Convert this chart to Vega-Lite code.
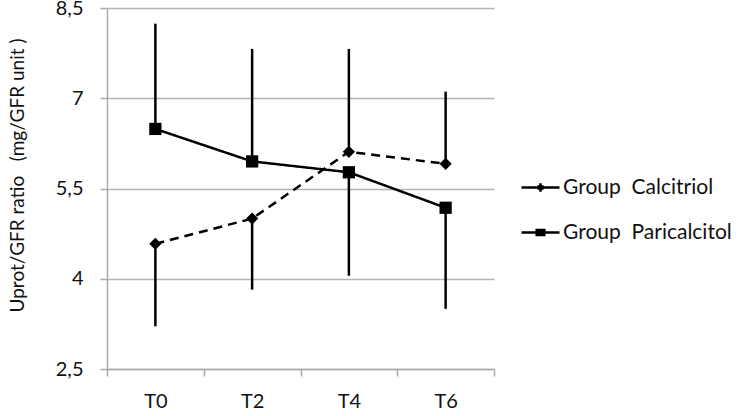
{
  "$schema": "https://vega.github.io/schema/vega-lite/v6.json",
  "autosize": {"type": "none"},
  "padding": {"left": 107, "top": 8, "right": 251, "bottom": 47},
  "width": 387,
  "height": 361,
  "background": "white",
  "config": {
    "font": "Lato",
    "view": {"stroke": null},
    "axis": {"labelFont": "Lato", "titleFont": "Lato", "labelColor": "#111", "titleColor": "#111"}
  },
  "data": {
    "values": [
      {"group": "Group\u00a0 Calcitriol", "time": "T0", "value": 4.58, "err": 3.21},
      {"group": "Group\u00a0 Calcitriol", "time": "T2", "value": 5.0, "err": 3.82},
      {"group": "Group\u00a0 Calcitriol", "time": "T4", "value": 6.11, "err": 7.82},
      {"group": "Group\u00a0 Calcitriol", "time": "T6", "value": 5.91, "err": 7.11},
      {"group": "Group\u00a0 Paricalcitol", "time": "T0", "value": 6.49, "err": 8.24},
      {"group": "Group\u00a0 Paricalcitol", "time": "T2", "value": 5.95, "err": 7.82},
      {"group": "Group\u00a0 Paricalcitol", "time": "T4", "value": 5.77, "err": 4.05},
      {"group": "Group\u00a0 Paricalcitol", "time": "T6", "value": 5.18, "err": 3.5}
    ]
  },
  "encoding": {
    "x": {
      "field": "time", "type": "nominal", "sort": ["T0", "T2", "T4", "T6"],
      "scale": {"paddingInner": 0, "paddingOuter": 0},
      "axis": {"title": null, "labelAngle": 0, "labelFontSize": 20, "labelPadding": 15, "tickBand": "extent", "tickSize": 7, "tickColor": "#aaa", "domainColor": "#aaa", "domainWidth": 1.5, "tickWidth": 1.5, "grid": false}
    },
    "y": {
      "field": "value", "type": "quantitative",
      "scale": {"domain": [2.5, 8.5], "nice": false, "zero": false},
      "axis": {
        "title": "Uprot/GFR ratio \u00a0 (mg/GFR unit )",
        "titleFontSize": 19, "titleFontWeight": "normal", "titlePadding": 28, "titleY": 167,
        "values": [2.5, 4, 5.5, 7, 8.5],
        "labelExpr": "replace(format(datum.value, '.1~f'), '.', ',')",
        "labelFontSize": 20, "labelPadding": 17,
        "tickSize": 7, "tickColor": "#aaa", "tickWidth": 1.5,
        "domainColor": "#aaa", "domainWidth": 1.5,
        "gridColor": "#b5b5b5", "gridWidth": 1.5
      }
    }
  },
  "resolve": {"scale": {"shape": "independent"}, "legend": {"shape": "independent"}},
  "layer": [
    {
      "mark": {"type": "rule", "color": "black", "strokeWidth": 2.5},
      "encoding": {"y2": {"field": "err"}, "detail": {"field": "group"}}
    },
    {
      "mark": {"type": "line", "color": "black", "strokeWidth": 2.5},
      "encoding": {
        "detail": {"field": "group"},
        "strokeDash": {"field": "group", "type": "nominal", "scale": {"range": [[9, 6], [1, 0]]}, "legend": null}
      }
    },
    {
      "mark": {"type": "point", "filled": true, "color": "black", "opacity": 1, "size": 150},
      "encoding": {
        "shape": {"field": "group", "type": "nominal", "scale": {"range": ["diamond", "square"]}, "legend": null}
      }
    },
    {
      "mark": {"type": "point", "filled": false, "color": "black", "size": 0, "strokeWidth": 0},
      "encoding": {
        "shape": {
          "field": "group", "type": "nominal",
          "scale": {"range": ["M-1,0H1M0,-0.22V0.22M-0.1,-0.12V0.12M0.1,-0.12V0.12M-0.18,-0.04V0.04M0.18,-0.04V0.04", "M-1,0H1M-0.2,-0.2V0.2M-0.1,-0.2V0.2M0,-0.2V0.2M0.1,-0.2V0.2M0.2,-0.2V0.2"]},
          "legend": {
            "title": null, "orient": "none", "legendX": 413, "legendY": 159, "padding": 0,
            "labelFontSize": 21, "labelFont": "Lato", "labelColor": "#111", "labelLimit": 300,
            "symbolSize": 1444, "symbolStrokeWidth": 2.5, "symbolStrokeColor": "black", "symbolFillColor": "black", "symbolOpacity": 1,
            "rowPadding": 14, "labelOffset": 2
          }
        }
      }
    }
  ]
}
